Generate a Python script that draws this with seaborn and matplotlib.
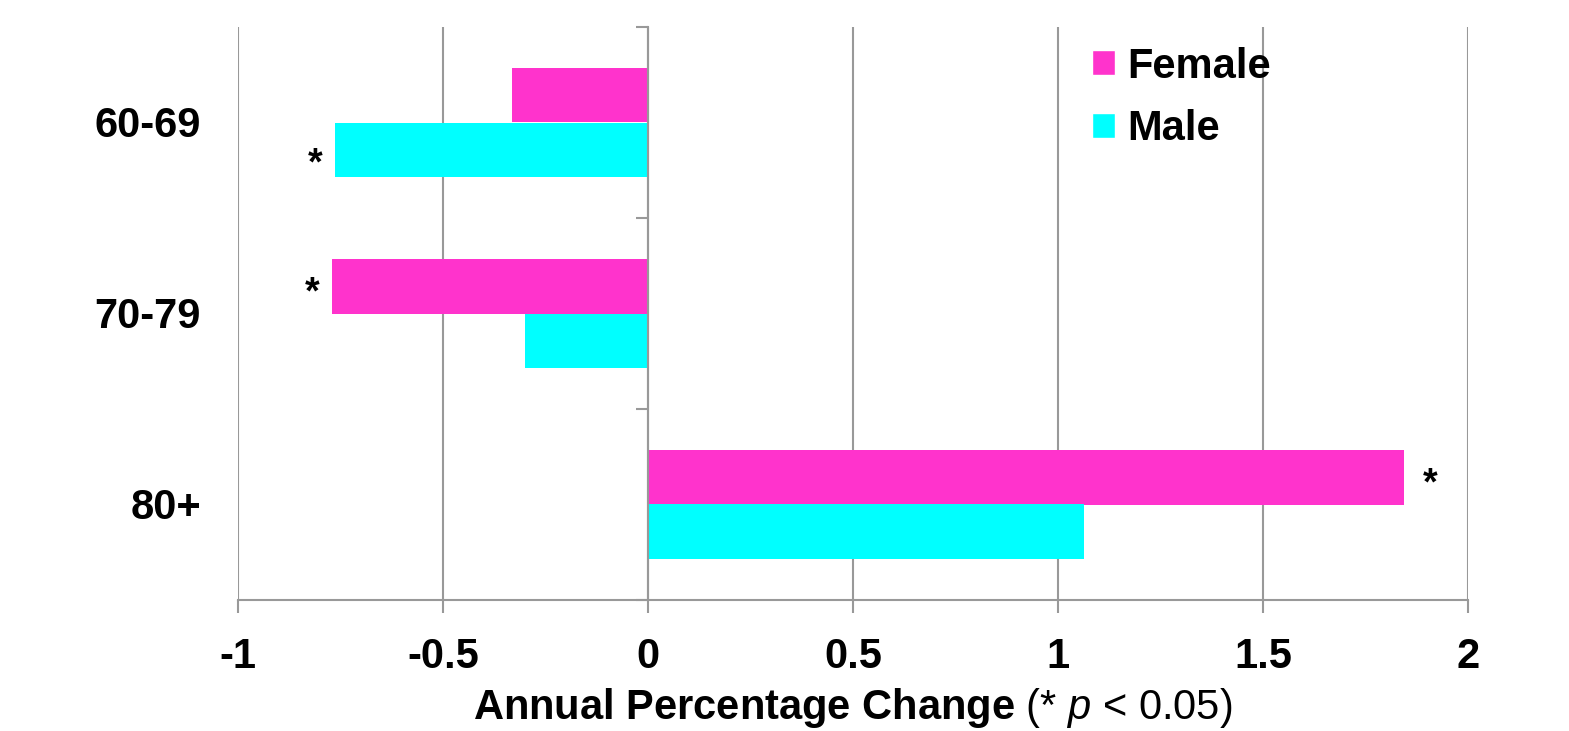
import matplotlib
matplotlib.use("Agg")
import matplotlib.pyplot as plt
import seaborn as sns
import pandas as pd
from matplotlib.patches import Patch
from matplotlib.transforms import blended_transform_factory

categories = ["60-69", "70-79", "80+"]
female = [-0.332, -0.771, 1.845]
male = [-0.764, -0.300, 1.064]
female_sig = [False, True, True]
male_sig = [True, False, False]
xticks = [-1, -0.5, 0, 0.5, 1, 1.5, 2]
xticklabels = ["-1", "-0.5", "0", "0.5", "1", "1.5", "2"]
colors = {"Female": "#FF33CC", "Male": "#00FFFF"}

df = pd.DataFrame({
    "Age": categories * 2,
    "Sex": ["Female"] * 3 + ["Male"] * 3,
    "APC": female + male,
})

sns.set_theme(style="white")
plt.rcParams["font.family"] = ["Liberation Sans", "DejaVu Sans"]
plt.rcParams["text.color"] = "black"
plt.rcParams["axes.labelcolor"] = "black"
plt.rcParams["xtick.color"] = "black"
plt.rcParams["ytick.color"] = "black"
plt.rcParams["mathtext.fontset"] = "custom"
plt.rcParams["mathtext.rm"] = "Liberation Sans"
plt.rcParams["mathtext.it"] = "Liberation Sans:italic"
plt.rcParams["mathtext.bf"] = "Liberation Sans:bold"

FS = 30

fig = plt.figure(figsize=(15.69, 7.31), dpi=100)
ax = fig.add_axes([238 / 1569, 1 - 600 / 731, 1230 / 1569, 573 / 731])

sns.barplot(data=df, y="Age", x="APC", hue="Sex", order=categories,
            hue_order=["Female", "Male"], palette=colors, orient="h",
            width=0.575, saturation=1, ax=ax, legend=False, linewidth=0)

ax.set_xlim(-1, 2)
ax.set_ylim(2.5, -0.5)
grid_c = "#999999"
for xv in xticks:
    ax.axvline(xv, color=grid_c, lw=1.5, zorder=0)

for s in ["top", "right"]:
    ax.spines[s].set_visible(False)
ax.spines["left"].set_position(("data", 0))
ax.spines["left"].set_color(grid_c)
ax.spines["left"].set_linewidth(1.5)
ax.spines["left"].set_zorder(3)
ax.spines["bottom"].set_color(grid_c)
ax.spines["bottom"].set_linewidth(1.5)

ax.set_yticks([-0.5, 0.5, 1.5, 2.5])
ax.set_yticklabels([])
ax.tick_params(axis="y", direction="out", length=9, width=1.5, color=grid_c, left=True)
ax.set_xticks(xticks)
ax.set_xticklabels(xticklabels, fontsize=FS, fontweight="bold")
ax.tick_params(axis="x", direction="out", length=9, width=1.5, color=grid_c,
               labelcolor="black", pad=18, bottom=True)

tr = blended_transform_factory(ax.transAxes, ax.transData)
for i, c in enumerate(categories):
    ax.text(-0.03, i + 0.02, c, transform=tr, ha="right", va="center",
            fontsize=FS, fontweight="bold")

ax.set_ylabel("")
ax.set_xlabel(r"$\mathbf{Annual\ Percentage\ Change}$ (* $\mathit{p}$ < 0.05)",
              fontsize=FS, labelpad=6)

off = 0.575 / 4
for i in range(3):
    for vals, sig, dy, lift in [(female, female_sig, -off, 0.04), (male, male_sig, off, 0.075)]:
        if sig[i]:
            v = vals[i]
            xpos = v - 0.048 if v < 0 else v + 0.062
            ax.text(xpos, i + dy + lift, "*", ha="center", va="center",
                    fontsize=27, fontweight="bold")

handles = [Patch(facecolor=colors["Female"], label="Female"),
           Patch(facecolor=colors["Male"], label="Male")]
leg = ax.legend(handles=handles, loc="upper left", bbox_to_anchor=(0.681, 0.995),
                frameon=False, prop={"size": FS, "weight": "bold"},
                handlelength=0.55, handleheight=0.55, handletextpad=0.3,
                labelspacing=0.55, borderaxespad=0.0)

fig.savefig("out.png", dpi=100)
